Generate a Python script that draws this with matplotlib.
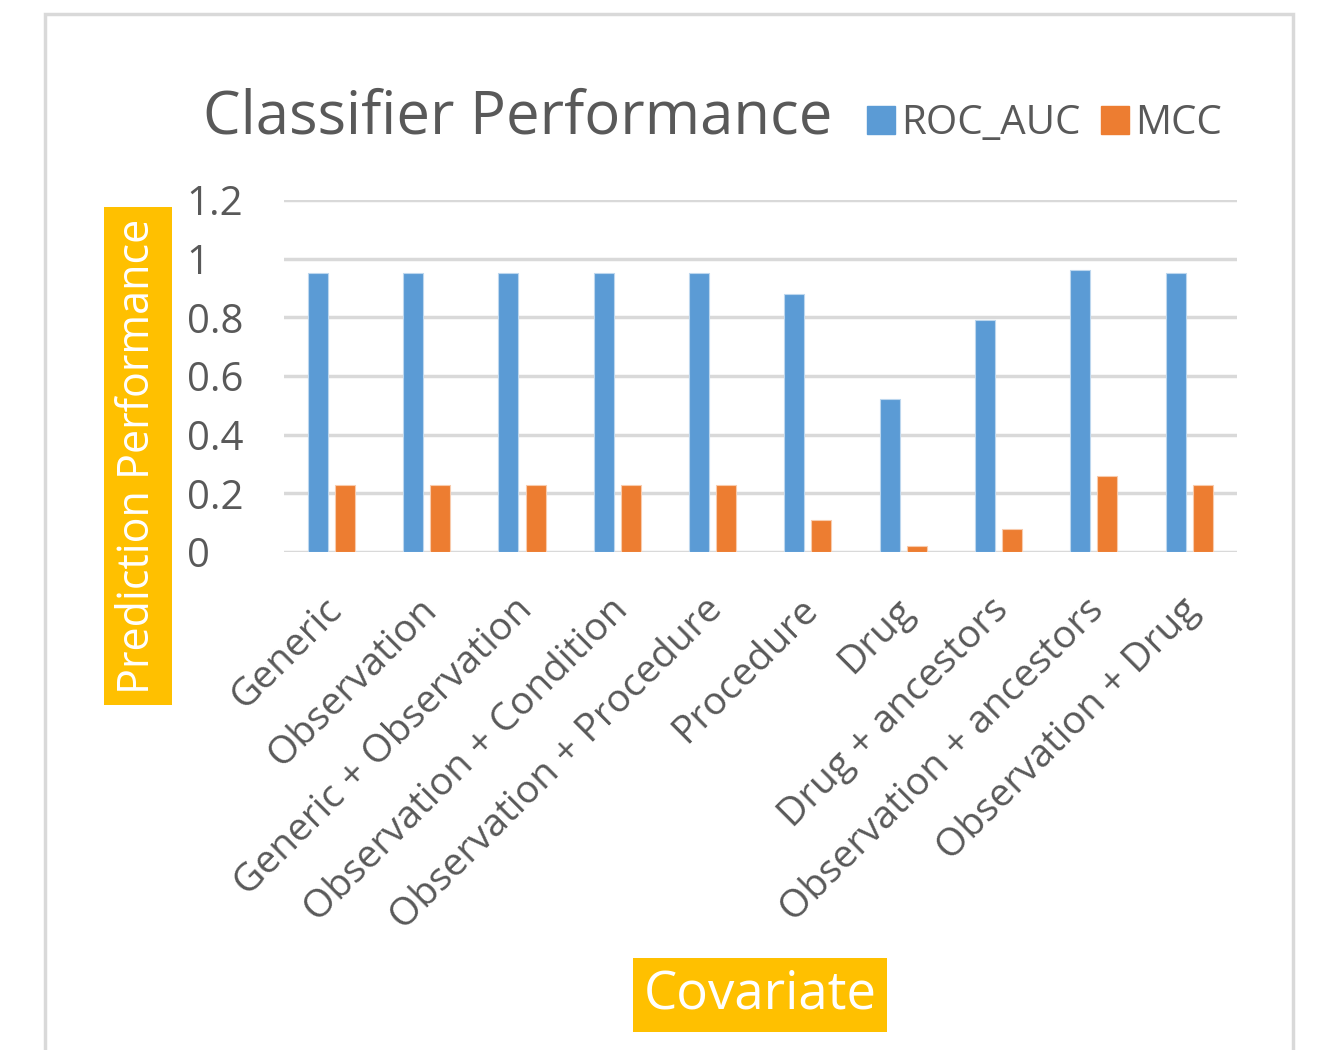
import matplotlib
matplotlib.use("Agg")
import matplotlib.pyplot as plt
import matplotlib.transforms as mtransforms
import numpy as np
from matplotlib.patches import Rectangle, Patch

categories = [
    "Generic",
    "Observation",
    "Generic + Observation",
    "Observation + Condition",
    "Observation + Procedure",
    "Procedure",
    "Drug",
    "Drug + ancestors",
    "Observation + ancestors",
    "Observation + Drug",
]
roc_auc = [0.95, 0.95, 0.95, 0.95, 0.95, 0.88, 0.52, 0.79, 0.96, 0.95]
mcc = [0.23, 0.23, 0.23, 0.23, 0.23, 0.11, 0.02, 0.08, 0.26, 0.23]
y_ticks = [0, 0.2, 0.4, 0.6, 0.8, 1, 1.2]
y_tick_labels = ["0", "0.2", "0.4", "0.6", "0.8", "1", "1.2"]

plt.rcParams["font.family"] = ["Open Sans", "DejaVu Sans"]

W, H = 1317, 1050
fig = plt.figure(figsize=(W / 100, H / 100), dpi=100)
fig.patch.set_facecolor("white")

# outer chart border
fig.patches.append(Rectangle((45 / W, -0.02), (1293 - 45) / W, (H - 14) / H + 0.02,
                             transform=fig.transFigure, fill=False,
                             edgecolor="#d9d9d9", linewidth=2.5))

ax = fig.add_axes([284 / W, (H - 552) / H, (1237 - 284) / W, (552 - 200) / H])

blue = "#5b9bd5"
orange = "#ed7d31"
x = np.arange(len(categories))
bw = 0.21
ax.bar(x - 0.145, roc_auc, width=bw, color=blue, edgecolor="#bdd7ee", linewidth=0.8,
       label="ROC_AUC", zorder=3)
ax.bar(x + 0.14, mcc, width=bw, color=orange, edgecolor="#f8cbad", linewidth=0.8,
       label="MCC", zorder=3)

ax.set_xlim(-0.5, len(categories) - 0.5)
ax.set_ylim(0, 1.2)
ax.set_yticks(y_ticks)
ax.set_yticklabels(y_tick_labels)
ax.yaxis.grid(True, color="#d9d9d9", linewidth=2.5, zorder=0)
ax.set_axisbelow(True)
for s in ax.spines.values():
    s.set_visible(False)
ax.tick_params(axis="both", length=0, colors="#595959")
ax.tick_params(axis="y", pad=70, labelsize=29)
for lbl in ax.get_yticklabels():
    lbl.set_horizontalalignment("left")
ax.set_xticks(x)
ax.set_xticklabels(categories, rotation=45, ha="right", rotation_mode="anchor",
                   fontsize=28, color="#595959")
ax.tick_params(axis="x", pad=28)
# nudge the rotated category labels slightly to the left
shift = mtransforms.ScaledTranslation(-0.09, 0, fig.dpi_scale_trans)
for lbl in ax.get_xticklabels():
    lbl.set_transform(lbl.get_transform() + shift)

# title and legend
fig.text(203 / W, (H - 117) / H, "Classifier Performance", fontsize=43,
         color="#595959", ha="left", va="center")
handles = [Patch(color=blue, label="ROC_AUC"), Patch(color=orange, label="MCC")]
fig.legend(handles=handles, loc="center left", bbox_to_anchor=(831 / W, (H - 124) / H),
           ncol=2, frameon=False, fontsize=29, labelcolor="#595959",
           handlelength=0.7, handleheight=0.7, handletextpad=0.15, columnspacing=0.5)

# axis titles on yellow boxes
fig.text(138 / W, (H - 456) / H, "Prediction Performance", rotation=90,
         fontsize=31, color="white", ha="center", va="center",
         bbox=dict(boxstyle="square,pad=0.27", facecolor="#ffc000", edgecolor="none"))
fig.text(760 / W, (H - 995) / H, "Covariate", fontsize=38, color="white",
         ha="center", va="center",
         bbox=dict(boxstyle="square,pad=0.2", facecolor="#ffc000", edgecolor="none"))

fig.savefig("out.png", dpi=100)
